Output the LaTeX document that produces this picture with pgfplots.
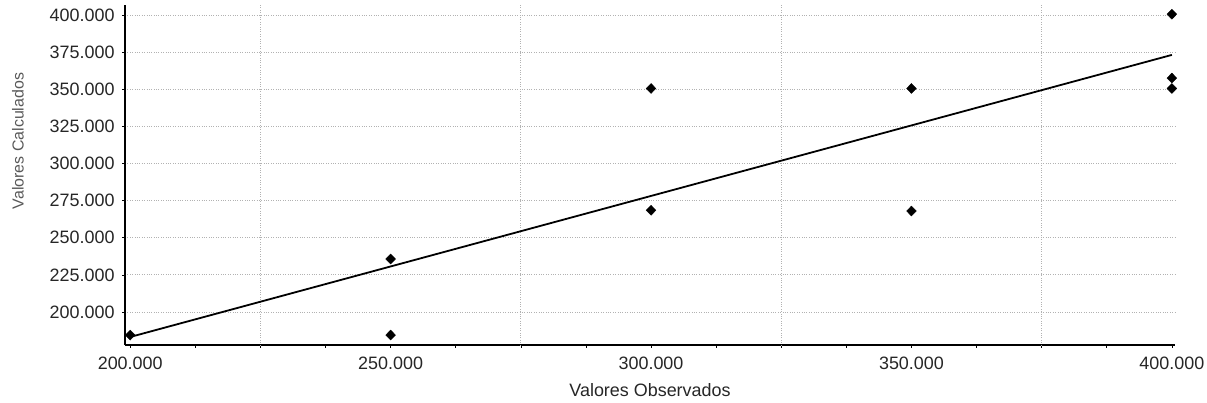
\documentclass[border=0pt]{standalone}
\usepackage{pgfplots}
\pgfplotsset{compat=1.18}
\usepackage{fontspec}
\setmainfont{Liberation Sans}
\begin{document}
\begin{tikzpicture}
\path[use as bounding box] (-125bp,-58bp) rectangle (1082bp,345bp);
\begin{axis}[
  scale only axis,
  width=1050bp, height=340bp,
  xmin=199, xmax=400.6,
  ymin=177.8, ymax=406.7,
  axis x line=bottom, axis y line=left,
  axis line style={black, line width=1.4pt, -},
  xtick={200,250,300,350,400},
  xticklabels={200.000,250.000,300.000,350.000,400.000},
  minor xtick={212.5,225,237.5,262.5,275,287.5,312.5,325,337.5,362.5,375,387.5},
  extra x ticks={225,275,325,375},
  extra x tick labels={},
  extra x tick style={grid=major, major tick length=0pt},
  ytick={200,225,250,275,300,325,350,375,400},
  yticklabels={200.000,225.000,250.000,275.000,300.000,325.000,350.000,375.000,400.000},
  ymajorgrids=true,
  major grid style={gray!60, dotted, line width=0.8pt},
  tick style={black, line width=0.6pt},
  major tick length=3pt, minor tick length=3pt,
  xtick pos=bottom, ytick pos=left,
  tick align=outside,
  ticklabel style={font=\fontsize{18}{20}\selectfont, text=black!85},
  xticklabel style={yshift=-5bp},
  yticklabel style={xshift=-4bp},
  xlabel={Valores Observados},
  ylabel={Valores Calculados},
  xlabel style={font=\fontsize{18}{20}\selectfont, text=black!85, yshift=-4bp},
  ylabel style={font=\fontsize{16}{18}\selectfont, text=black!65, at={(axis description cs:-0.102,0.6)}, anchor=center},
  clip=false,
]
\addplot[black, line width=1.8pt] coordinates {(200,183.2) (400,373.1)};
\addplot[only marks, mark=diamond*, mark size=5pt, mark options={xscale=1.3}, black] coordinates {
  (200,184.5) (250,235.7) (250,184.5) (300,350.5) (300,268.5)
  (350,350.5) (350,268) (400,400.5) (400,357.5) (400,350.5)
};
\end{axis}
\end{tikzpicture}
\end{document}
